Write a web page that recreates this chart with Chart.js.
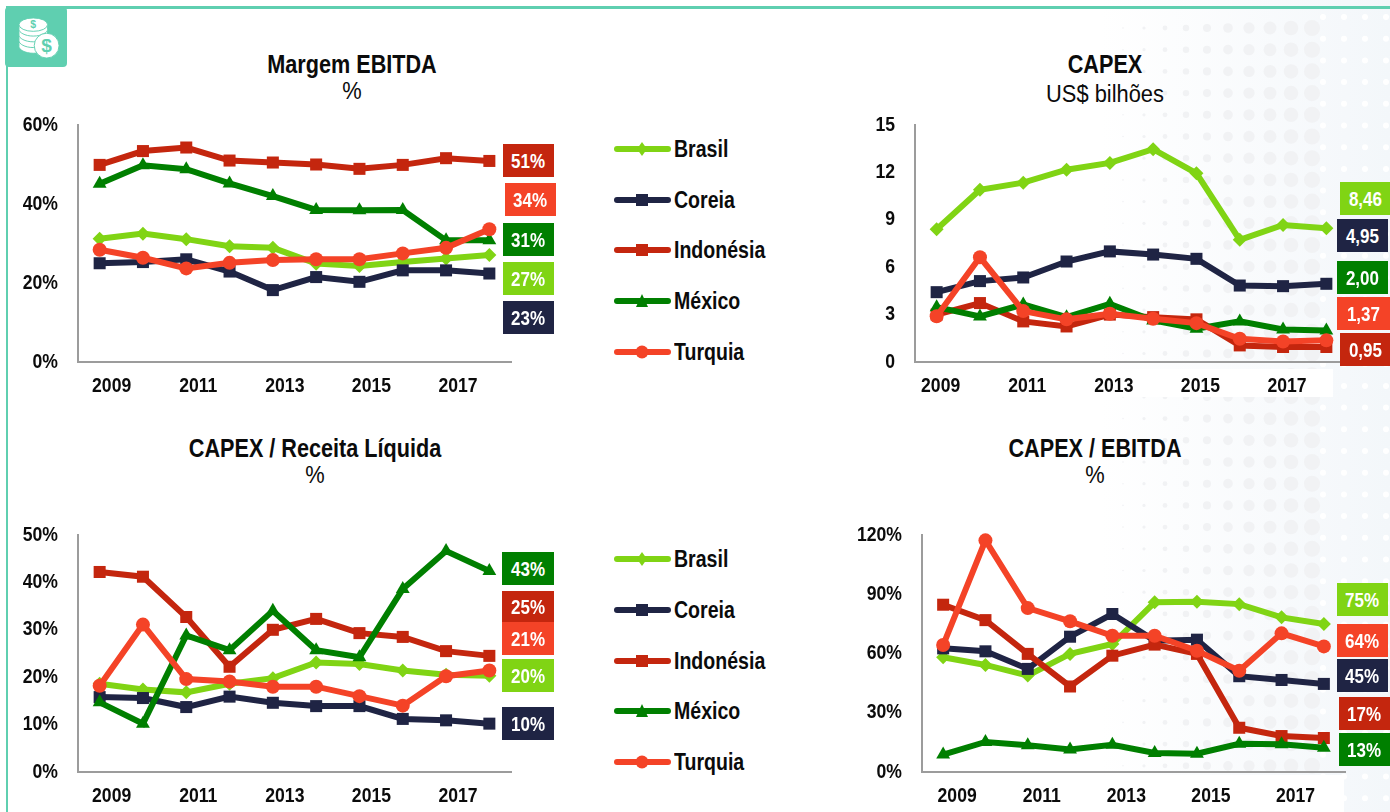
<!DOCTYPE html>
<html lang="pt">
<head>
<meta charset="utf-8">
<title>Margem EBITDA e CAPEX</title>
<script src="https://cdn.jsdelivr.net/npm/chart.js@4/dist/chart.umd.min.js"></script>
<style>
  html, body { margin: 0; padding: 0; background: #fff; }
  body { position: relative; width: 1390px; height: 812px; overflow: hidden; font-family: 'Liberation Sans', sans-serif; color: #0b0b0b; }
  .abs { position: absolute; }
  canvas { position: absolute; display: block; }
  .title { position: absolute; transform: translateX(-50%) scaleX(0.865); white-space: nowrap; font-weight: 700; font-size: 25px; line-height: 28px; }
  .sub { position: absolute; transform: translateX(-50%) scaleX(0.95); white-space: nowrap; font-size: 23px; line-height: 26px; }
  .tag { position: absolute; color: #fff; font-weight: 700; font-size: 20px; display: flex; align-items: center; justify-content: center; }
  .tag span { transform: translateY(1px) scaleX(0.85); }
  .leg { position: absolute; left: 614px; height: 26px; width: 170px; }
  .leg span { position: absolute; left: 60px; top: 0; font-weight: 700; font-size: 23px; line-height: 26px; white-space: nowrap; transform: scaleX(0.85); transform-origin: left center; }
  .leg svg { position: absolute; left: 0; top: 0; }
</style>
</head>
<body>
<svg id="dots" class="abs" style="left:0;top:0" width="1390" height="812"></svg>
<div class="abs" style="left:6px;top:6px;width:1384px;height:3px;background:#5fcfb0"></div>
<div class="abs" style="left:6px;top:6px;width:2px;height:806px;background:#5fcfb0"></div>
<div class="abs" style="left:5px;top:7px;width:62px;height:60px;background:#5fcfb0;border-radius:4px"></div>
<svg class="abs" style="left:18px;top:16px" width="42" height="44" viewBox="0 0 44 44">
  <g fill="#fff" stroke="#5fcfb0" stroke-width="1">
    <path d="M1 31c0 3 6 7 15 7s15-4 15-7v-5H1z"/>
    <path d="M1 25c0 3 6 7 15 7s15-4 15-7v-5H1z"/>
    <path d="M1 19c0 3 6 7 15 7s15-4 15-7v-5H1z"/>
    <path d="M1 13c0 3 6 7 15 7s15-4 15-7V8H1z"/>
    <ellipse cx="16" cy="8" rx="15" ry="7"/>
    <circle cx="30" cy="30" r="13"/>
  </g>
  <text x="16" y="12" font-size="11" font-weight="700" fill="#5fcfb0" text-anchor="middle">$</text>
  <text x="30" y="37" font-size="20" font-weight="700" fill="#5fcfb0" text-anchor="middle">$</text>
</svg>
<div class="abs" style="left:910px;top:369px;width:423px;height:28px;background:#fff"></div>
<div class="abs" style="left:915px;top:775px;width:429px;height:37px;background:#fff"></div>

<script>
const years = ['2009', '2010', '2011', '2012', '2013', '2014', '2015', '2016', '2017', '2018']
const countries = ['Brasil', 'Coreia', 'Indonésia', 'México', 'Turquia']
const colors = ['#80d414', '#1f2444', '#c4260e', '#007f00', '#f44327']
const pointStyles = ['rectRot', 'rect', 'rect', 'triangle', 'circle']
const pointSizes = [7, 8.5, 8.5, 8, 7]

// Margem EBITDA, %
const margemBrasil = [31.2, 32.5, 31.1, 29.3, 28.9, 24.9, 24.3, 25.3, 26.2, 27.1]
const margemCoreia = [25, 25.3, 26, 22.9, 18.2, 21.5, 20.3, 23.2, 23.2, 22.4]
const margemIndonesia = [49.9, 53.4, 54.3, 51, 50.5, 50, 48.9, 49.9, 51.6, 50.9]
const margemMexico = [45.1, 49.8, 48.8, 45.2, 42, 38.5, 38.4, 38.5, 30.8, 30.8]
const margemTurquia = [28.4, 26.4, 23.7, 25.1, 25.8, 26, 26, 27.5, 28.9, 33.6]
const margemTicks = [0, 60, 20]
const margemTags = ['51%', '34%', '31%', '27%', '23%']

// CAPEX, US$ bilhões
const capexBrasil = [8.4, 10.9, 11.35, 12.17, 12.6, 13.47, 11.94, 7.73, 8.67, 8.46]
const capexCoreia = [4.42, 5.12, 5.35, 6.36, 7, 6.8, 6.53, 4.84, 4.8, 4.95]
const capexIndonesia = [3, 3.73, 2.57, 2.25, 3, 2.84, 2.7, 1.05, 0.95, 0.95]
const capexMexico = [3.47, 2.88, 3.64, 2.84, 3.68, 2.63, 2.1, 2.57, 2.06, 2]
const capexTurquia = [2.9, 6.63, 3.22, 2.7, 3.05, 2.74, 2.46, 1.47, 1.3, 1.37]
const capexTicks = [0, 15, 3]
const capexTags = ['8,46', '4,95', '2,00', '1,37', '0,95']

// CAPEX / Receita Líquida, %
const receitaBrasil = [18.6, 17.4, 16.8, 18.6, 19.8, 23.1, 22.8, 21.4, 20.5, 20.3]
const receitaCoreia = [15.8, 15.6, 13.7, 15.9, 14.6, 13.9, 13.9, 11.2, 10.9, 10.2]
const receitaIndonesia = [42.2, 41.2, 32.7, 22.2, 30, 32.3, 29.3, 28.5, 25.5, 24.5]
const receitaMexico = [14.7, 10.2, 28.8, 25.7, 34, 25.7, 24.2, 38.6, 46.6, 42.4]
const receitaTurquia = [18.2, 31.1, 19.6, 19.1, 18, 18, 16, 14, 20.2, 21.4]
const receitaTicks = [0, 50, 10]
const receitaTags = ['43%', '25%', '21%', '20%', '10%']

// CAPEX / EBITDA, %
const ebitdaBrasil = [58.1, 54.2, 48.8, 59.8, 64.8, 85.9, 86.2, 85, 78.3, 74.9]
const ebitdaCoreia = [62.6, 61.1, 52.2, 68.5, 80, 66.5, 67, 48.5, 46.6, 44.6]
const ebitdaIndonesia = [84.7, 76.9, 59.8, 43.3, 58.9, 64.5, 59.8, 22.4, 18.2, 17.2]
const ebitdaMexico = [8.8, 15.2, 13.5, 11.4, 13.8, 9.6, 9.3, 14.3, 14, 12.3]
const ebitdaTurquia = [64.3, 117.3, 83, 76.3, 69, 69, 61.4, 51.3, 70.2, 63.6]
const ebitdaTicks = [0, 120, 30]
const ebitdaTags = ['75%', '64%', '45%', '17%', '13%']

// left/right/top/bottom are the plot area in page pixels
const panels = [
  {
    title: 'Margem EBITDA', sub: '%', cx: 352, titleY: 50, subY: 78,
    left: 78, right: 511, top: 124, bottom: 362, labelOffset: 12, pct: true,
    series: [margemBrasil, margemCoreia, margemIndonesia, margemMexico, margemTurquia], range: margemTicks,
    tags: margemTags,
    boxes: [[503, 144, 51, 33, 2], [505, 183, 51, 33, 4], [503, 223, 51, 33, 3], [503, 262, 51, 33, 0], [503, 301, 51, 33, 1]]
  },
  {
    title: 'CAPEX', sub: 'US$ bilhões', cx: 1105, titleY: 50, subY: 81,
    left: 915, right: 1348, top: 124, bottom: 362, labelOffset: 4, pct: false,
    series: [capexBrasil, capexCoreia, capexIndonesia, capexMexico, capexTurquia], range: capexTicks,
    tags: capexTags,
    boxes: [[1340, 182, 50, 33, 0], [1337, 219, 51, 33, 1], [1337, 261, 51, 33, 3], [1337, 297, 53, 33, 4], [1340, 333, 50, 33, 2]]
  },
  {
    title: 'CAPEX / Receita Líquida', sub: '%', cx: 315, titleY: 434, subY: 462,
    left: 78, right: 511, top: 534, bottom: 772, labelOffset: 12, pct: true,
    series: [receitaBrasil, receitaCoreia, receitaIndonesia, receitaMexico, receitaTurquia], range: receitaTicks,
    tags: receitaTags,
    boxes: [[502, 552, 52, 33, 3], [502, 591, 52, 31, 2], [502, 622, 52, 33, 4], [502, 659, 52, 33, 0], [502, 707, 52, 33, 1]]
  },
  {
    title: 'CAPEX / EBITDA', sub: '%', cx: 1095, titleY: 434, subY: 462,
    left: 922, right: 1345, top: 534, bottom: 772, labelOffset: 14, pct: true,
    series: [ebitdaBrasil, ebitdaCoreia, ebitdaIndonesia, ebitdaMexico, ebitdaTurquia], range: ebitdaTicks,
    tags: ebitdaTags,
    boxes: [[1337, 583, 51, 33, 0], [1337, 624, 51, 33, 4], [1337, 659, 51, 33, 1], [1339, 697, 51, 33, 2], [1339, 733, 51, 33, 3]]
  }
]

const legendRows = [[149, 200, 250, 301, 352], [559, 610, 661, 711, 762]]

function addEl (className, css, text) {
  const el = document.createElement('div')
  el.className = className
  Object.assign(el.style, css)
  if (text) el.textContent = text
  document.body.appendChild(el)
  return el
}

// faint dot texture on the right side of the slide
function drawDots () {
  const svg = document.getElementById('dots')
  let out = '<defs><linearGradient id="fade"><stop offset="0" stop-color="#fff"/><stop offset="0.85" stop-color="#f5f8fb"/><stop offset="1" stop-color="#f3f7fa"/></linearGradient></defs>'
  out += '<rect x="1100" y="0" width="290" height="812" fill="url(#fade)"/>'
  for (let x = 1123; x < 1320; x += 21) {
    for (let y = 28; y < 812; y += 21.7) {
      const r = 0.8 + (x - 1123) / 26
      out += `<circle cx="${x}" cy="${y}" r="${r}" fill="#f1f2f4"/>`
    }
  }
  for (let x = 1323; x < 1390; x += 21) {
    for (let y = 17; y < 812; y += 21.7) {
      out += `<circle cx="${x}" cy="${y}" r="3" fill="#fff"/>`
    }
  }
  svg.innerHTML = out
}

function markerSvg (i) {
  const c = colors[i]
  const y = 13
  const shapes = [
    `<path d="M28 ${y - 7}L33 ${y}L28 ${y + 7}L23 ${y}Z" fill="${c}"/>`,
    `<rect x="22" y="${y - 6}" width="12" height="12" fill="${c}"/>`,
    `<rect x="22" y="${y - 6}" width="12" height="12" fill="${c}"/>`,
    `<path d="M28 ${y - 7}L34 ${y + 6}L22 ${y + 6}Z" fill="${c}"/>`,
    `<circle cx="28" cy="${y}" r="6.5" fill="${c}"/>`
  ]
  return `<svg width="58" height="26"><line x1="3" y1="${y}" x2="54" y2="${y}" stroke="${c}" stroke-width="6" stroke-linecap="round"/>${shapes[i]}</svg>`
}

function drawLegends () {
  legendRows.forEach((rows) => {
    rows.forEach((y, i) => {
      const row = addEl('leg', { top: (y - 13) + 'px' })
      row.innerHTML = markerSvg(i) + `<span>${countries[i]}</span>`
    })
  })
}

// no condensed face is installed, so squeeze the axis text horizontally
function squeezeText (ctx, ratio) {
  const fill = ctx.fillText.bind(ctx)
  ctx.fillText = (text, x, y) => {
    ctx.save()
    ctx.translate(x, y)
    ctx.scale(ratio, 1)
    fill(text, 0, 0)
    ctx.restore()
  }
}

function drawPanel (panel) {
  addEl('title', { left: panel.cx + 'px', top: panel.titleY + 'px' }, panel.title)
  addEl('sub', { left: panel.cx + 'px', top: panel.subY + 'px' }, panel.sub)

  const yWidth = 70
  const xHeight = 40
  const padTop = 14
  const padRight = 4
  const labelRoom = 17 // chart.js leaves this much above the top tick

  const canvas = document.createElement('canvas')
  canvas.width = panel.right - panel.left + yWidth + padRight
  canvas.height = panel.bottom - panel.top + xHeight + padTop + labelRoom
  canvas.style.left = (panel.left - yWidth) + 'px'
  canvas.style.top = (panel.top - padTop - labelRoom) + 'px'
  document.body.appendChild(canvas)

  const datasets = panel.series.map((data, i) => ({
    label: countries[i],
    data,
    order: countries.length - i,
    borderColor: colors[i],
    backgroundColor: colors[i],
    borderWidth: 6,
    tension: 0,
    pointStyle: pointStyles[i],
    pointRadius: pointSizes[i],
    pointBorderWidth: 0,
    clip: false
  }))

  const ctx = canvas.getContext('2d')
  squeezeText(ctx, 0.88)

  new Chart(ctx, {
    type: 'line',
    data: { labels: years, datasets },
    options: {
      responsive: false,
      animation: false,
      devicePixelRatio: 1,
      layout: { autoPadding: false, padding: { top: padTop, right: padRight, left: 0, bottom: 0 } },
      plugins: { legend: { display: false }, title: { display: false }, tooltip: { enabled: false } },
      scales: {
        x: {
          offset: true,
          afterFit: (scale) => { scale.height = xHeight },
          grid: { display: false, drawTicks: false },
          border: { color: '#9c9c9c', width: 2 },
          ticks: {
            autoSkip: false,
            maxRotation: 0,
            padding: 12,
            labelOffset: panel.labelOffset,
            color: '#0b0b0b',
            font: { family: "'Liberation Sans'", size: 20, weight: 'bold' },
            callback: (value, index) => (index % 2 ? '' : years[index])
          }
        },
        y: {
          min: panel.range[0],
          max: panel.range[1],
          afterFit: (scale) => { scale.width = yWidth },
          grid: { display: false, drawTicks: false },
          border: { color: '#9c9c9c', width: 2 },
          ticks: {
            stepSize: panel.range[2],
            padding: 20,
            color: '#0b0b0b',
            font: { family: "'Liberation Sans'", size: 20, weight: 'bold' },
            callback: (value) => (panel.pct ? value + '%' : value)
          }
        }
      }
    }
  })

  panel.boxes.forEach(([x, y, w, h, c], i) => {
    const box = addEl('tag', { left: x + 'px', top: y + 'px', width: w + 'px', height: h + 'px', background: colors[c] })
    box.innerHTML = `<span>${panel.tags[i]}</span>`
  })
}

drawDots()
drawLegends()
panels.forEach(drawPanel)
</script>
</body>
</html>
